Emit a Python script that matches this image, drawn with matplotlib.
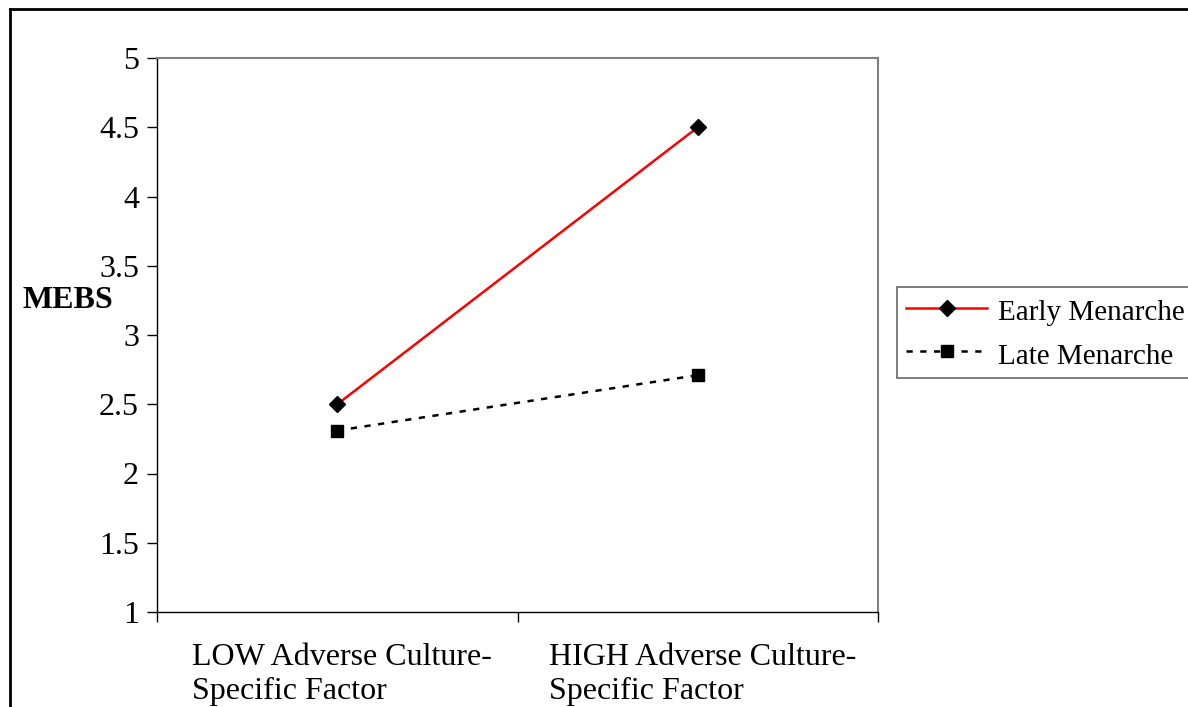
"""Interaction plot: MEBS by adverse culture-specific factor and menarche timing."""
import matplotlib

matplotlib.use("Agg")
import matplotlib.pyplot as plt
from matplotlib.lines import Line2D

categories = ["LOW Adverse Culture-\nSpecific Factor", "HIGH Adverse Culture-\nSpecific Factor"]
early_menarche = [2.5, 4.5]
late_menarche = [2.31, 2.71]
y_ticks = [1, 1.5, 2, 2.5, 3, 3.5, 4, 4.5, 5]
y_ticklabels = ["1", "1.5", "2", "2.5", "3", "3.5", "4", "4.5", "5"]

plt.rcParams["font.family"] = ["Liberation Serif", "DejaVu Serif"]

fig = plt.figure(figsize=(11.88, 7.07), dpi=100)
W, H = 1188, 707
ax = fig.add_axes([157 / W, 1 - 612 / H, (878 - 157) / W, (612 - 58) / H])

x = [0.5, 1.5]
ax.plot(x, early_menarche, color="red", lw=1.8, marker="D", markersize=8.5,
        markerfacecolor="black", markeredgecolor="black", label="Early Menarche")
ax.plot(x, late_menarche, color="black", lw=1.8, linestyle=(0, (2.5, 3)), marker="s",
        markersize=8.5, markerfacecolor="black", markeredgecolor="black",
        label="Late Menarche")

ax.set_xlim(0, 2)
ax.set_ylim(1, 5)
ax.set_yticks(y_ticks)
ax.set_yticklabels(y_ticklabels, fontsize=23)
ax.set_xticks([0, 1, 2])
ax.set_xticklabels([])
ax.tick_params(axis="y", direction="out", length=7, width=1, pad=6)
ax.tick_params(axis="x", direction="out", length=7, width=1)

# category labels sit a touch right of the tick centre, as in the original
for lab, xp in zip(categories, x):
    ax.text(xp + 0.014, -0.056, lab, transform=ax.get_xaxis_transform(), ha="center",
            va="top", multialignment="left", fontsize=23, linespacing=1.22)

for side in ("top", "right"):
    ax.spines[side].set_color("#808080")
    ax.spines[side].set_linewidth(1.5)
for side in ("left", "bottom"):
    ax.spines[side].set_color("black")
    ax.spines[side].set_linewidth(1)

fig.text(68 / W, 1 - 301 / H, "MEBS", ha="center", va="center", fontsize=23,
         fontweight="bold")

leg = fig.legend(loc="upper left", bbox_to_anchor=(897 / W, 1 - 287 / H),
                 fontsize=21, frameon=True, fancybox=False, handlelength=2.8,
                 handleheight=1.15, handletextpad=0.38, borderpad=0.3,
                 labelspacing=0.45, borderaxespad=0)
leg.get_frame().set_edgecolor("#404040")
leg.get_frame().set_linewidth(1.2)

# outer chart-area frame (top and left edges visible)
fig.add_artist(Line2D([10 / W, 10 / W], [0, 1 - 9 / H], transform=fig.transFigure,
                      color="black", lw=2))
fig.add_artist(Line2D([10 / W, 1], [1 - 9 / H, 1 - 9 / H], transform=fig.transFigure,
                      color="black", lw=2))

fig.savefig("out.png", dpi=100)
